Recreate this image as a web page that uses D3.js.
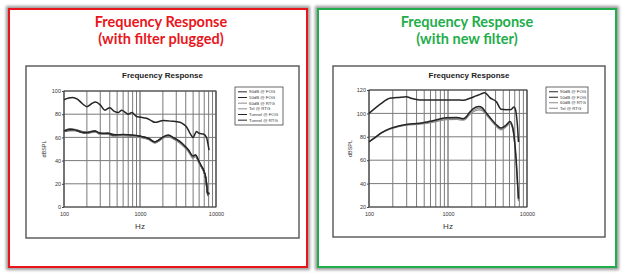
<!DOCTYPE html>
<html>
<head>
<meta charset="utf-8">
<script src="https://cdn.jsdelivr.net/npm/d3@7"></script>
<style>
  body { margin: 0; background: #fff; }
  svg { display: block; }
</style>
</head>
<body>
<div id="chart"></div>
<script>
const W = 626, H = 277;

// ---- data ----
const xTickLabels = [100, 1000, 10000];
const leftYTicks = [0, 20, 40, 60, 80, 100];
const rightYTicks = [20, 40, 60, 80, 100, 120];

const leftLegend = ['90dB @ FOG', '50dB @ FOG', '60dB @ RTG', 'Tel @ RTG', 'Tunnel @ FOG', 'Tunnel @ RTG'];
const rightLegend = ['90dB @ FOG', '50dB @ FOG', '60dB @ RTG', 'Tel @ RTG'];

// plugged filter, [Hz, dBSPL]
const left90FOG = [[100,92.5],[115,94],[130,94.5],[150,93],[175,89],[200,86.5],[230,89],[260,90.5],[300,88],[345,83.5],[400,85.5],[460,82.5],[520,81.5],[575,83.5],[640,81.5],[700,80],[780,81.5],[900,78],[1000,77.5],[1220,76.5],[1400,74.5],[1570,73],[2030,74.5],[2600,74],[3350,73],[3800,71],[4100,69],[4600,63],[5000,60],[5300,63],[5530,65],[6000,63.5],[6800,63],[7500,60],[7800,55],[8100,49]];
const left50FOG = [[100,65.5],[120,67],[140,66.5],[170,64.5],[200,64],[255,65.5],[300,63.5],[380,63.5],[450,62],[600,62.5],[800,62],[1000,61],[1300,59],[1570,56],[1800,58],[2030,60.5],[2360,62],[2800,59.5],[3350,56.5],[3900,52.5],[4300,49.5],[5000,44],[5400,45],[5850,40.5],[6400,35.5],[6800,32.5],[7400,24],[7800,11],[8100,12.5]];
const left60RTG = [[100,66],[120,67.5],[140,67],[170,65],[200,64.5],[255,65],[300,62.5],[380,63],[450,61.5],[600,61.5],[800,61],[1000,60],[1300,58],[1570,55],[1800,57],[2030,59.5],[2360,60.5],[2800,58.5],[3350,55],[3900,51],[4300,48],[5000,42],[5400,43.5],[5850,39],[6400,34.5],[6800,31.5],[7400,23],[7800,10],[8100,12]];
const leftTelRTG = [[100,65],[120,66.5],[140,66],[170,64],[200,63.5],[255,64.5],[300,63],[380,62.5],[450,61],[600,61.5],[800,61],[1000,60],[1300,58.5],[1570,55.5],[1800,57.5],[2030,60],[2360,61],[2800,58.5],[3350,55.5],[3900,51.5],[4300,48.5],[5000,43],[5400,44],[5850,39.5],[6400,35],[6800,32],[7400,23.5],[7800,10.5],[8100,12]];
const leftTunnelFOG = [[100,65],[120,66],[140,66],[170,64.5],[200,64],[255,65],[300,63.5],[380,63],[450,62],[600,62],[800,61.5],[1000,60.5],[1300,58.5],[1570,55.5],[1800,57.5],[2030,60],[2360,61],[2800,59],[3350,56],[3900,52],[4300,49],[5000,43],[5400,44.5],[5850,40],[6400,35],[6800,32],[7400,23],[7800,10],[8100,12]];
const leftTunnelRTG = [[100,65.5],[120,66.5],[140,66.5],[170,65],[200,64.5],[255,65.5],[300,63],[380,63.5],[450,62.5],[600,62],[800,61.5],[1000,61],[1300,59],[1570,56],[1800,58],[2030,60.5],[2360,61.5],[2800,59],[3350,56],[3900,52],[4300,49],[5000,43.5],[5400,44.5],[5850,40],[6400,35],[6800,32],[7400,23.5],[7800,10.5],[8100,12]];

// new filter, [Hz, dBSPL]
const right90FOG = [[100,100],[120,104.5],[143,108.5],[165,111.5],[183,113],[230,113.5],[297,114.3],[340,113],[437,111.5],[650,111.5],[950,111.5],[1300,111.5],[1550,111.2],[1900,113],[2270,115],[2600,116.5],[2910,117.7],[3150,116],[3360,113.7],[4100,110],[4700,103.5],[5500,103.2],[6300,103.4],[6800,105.5],[7100,104],[7300,100],[7600,88],[7800,75.5]];
const right50FOG = [[100,75.7],[120,79.5],[143,83.4],[183,87],[230,89],[297,90.6],[437,91.6],[645,93.8],[950,96.3],[1300,96.5],[1550,95.5],[1700,97],[1880,101],[2270,105.5],[2450,106],[2700,105],[3000,101],[3360,97],[4000,91],[4700,87.5],[5440,90],[6100,93],[6400,91],[6700,86],[7000,75],[7300,60],[7600,40],[7800,27]];
const right60RTG = [[100,75.7],[120,79.5],[143,83.2],[183,86.8],[230,88.8],[297,90.2],[437,91.2],[645,93.2],[950,95.5],[1300,95.7],[1550,94.8],[1700,96.2],[1880,100],[2270,103.8],[2450,104.5],[2700,103.5],[3000,100],[3360,96],[4000,90],[4700,86.6],[5440,89],[6100,92],[6400,90],[6700,85],[7000,74],[7300,59],[7600,39],[7800,26]];
const rightTelRTG = [[100,75.5],[120,79.2],[143,83],[183,86.5],[230,88.5],[297,90],[437,90.8],[645,92.5],[950,94.6],[1300,94.8],[1550,94.2],[1700,95.5],[1880,99],[2270,102.5],[2450,103],[2700,102.5],[3000,99.2],[3360,95.5],[4000,89.5],[4700,86],[5440,88.5],[6100,91.5],[6400,89.5],[6700,84],[7000,73],[7300,58],[7600,38],[7800,25]];

const leftSeries = [left90FOG, left50FOG, left60RTG, leftTelRTG, leftTunnelFOG, leftTunnelRTG];
const rightSeries = [right90FOG, right50FOG, right60RTG, rightTelRTG];

// ---- layout ----
const DARK = '#262626', GRAY = '#8c8c8c';

const panels = [
  {
    frame: [9, 9, 298, 258], color: '#e8161c', cx: 161,
    title: ['Frequency Response', '(with filter plugged)'],
    box: [26, 66, 273, 172], plot: [64, 91, 216, 207],
    yDomain: [0, 100], yTicks: leftYTicks, yLabelX: 46,
    series: leftSeries, legend: leftLegend,
    styles: [DARK, DARK, GRAY, GRAY, DARK, DARK],
    legendBox: [235, 87, 48, 38]
  },
  {
    frame: [318, 9, 298, 258], color: '#1fae4b', cx: 467,
    title: ['Frequency Response', '(with new filter)'],
    box: [333, 66, 272, 171], plot: [369, 90, 527, 207],
    yDomain: [20, 120], yTicks: rightYTicks, yLabelX: 352,
    series: rightSeries, legend: rightLegend,
    styles: [DARK, DARK, GRAY, GRAY],
    legendBox: [546, 87, 42, 26]
  }
];

const svg = d3.select('#chart').append('svg')
  .attr('width', W).attr('height', H)
  .attr('viewBox', `0 0 ${W} ${H}`);

svg.append('rect').attr('width', W).attr('height', H).attr('fill', '#fff');

const defs = svg.append('defs');
defs.append('filter').attr('id', 'shadow')
  .attr('x', '-10%').attr('y', '-10%').attr('width', '120%').attr('height', '120%')
  .append('feGaussianBlur').attr('stdDeviation', 1.8);

function drawPanel (p) {
  const g = svg.append('g');
  const [fx, fy, fw, fh] = p.frame;

  // frame with soft shadow
  g.append('rect')
    .attr('x', fx).attr('y', fy).attr('width', fw).attr('height', fh)
    .attr('fill', 'none').attr('stroke', '#9a9a9a').attr('stroke-width', 6)
    .attr('filter', 'url(#shadow)');
  g.append('rect')
    .attr('x', fx).attr('y', fy).attr('width', fw).attr('height', fh)
    .attr('fill', '#fff').attr('stroke', p.color).attr('stroke-width', 2);

  g.selectAll('text.head').data(p.title).enter().append('text')
    .attr('class', 'head')
    .attr('x', p.cx).attr('y', (d, i) => 27 + i * 17)
    .attr('text-anchor', 'middle')
    .attr('font-family', 'Lato, "Open Sans", sans-serif')
    .attr('font-weight', 'bold').attr('font-size', '14.5px')
    .attr('fill', p.color)
    .text(d => d);

  // scanned chart box
  const [bx, by, bw, bh] = p.box;
  g.append('rect')
    .attr('x', bx).attr('y', by).attr('width', bw).attr('height', bh)
    .attr('fill', '#fff').attr('stroke', '#555').attr('stroke-width', 1.4);

  const font = '"Liberation Sans", Arial, sans-serif';
  g.append('text')
    .attr('x', bx + bw / 2).attr('y', by + 12)
    .attr('text-anchor', 'middle')
    .attr('font-family', font).attr('font-weight', 'bold').attr('font-size', '8px')
    .attr('fill', '#222')
    .text('Frequency Response');

  const [x0, y0, x1, y1] = p.plot;
  const x = d3.scaleLog().domain([100, 10000]).range([x0, x1]);
  const y = d3.scaleLinear().domain(p.yDomain).range([y1, y0]);

  // grid
  const gridX = x.ticks();
  g.append('g').selectAll('line').data(gridX).enter().append('line')
    .attr('x1', d => x(d)).attr('x2', d => x(d))
    .attr('y1', y0).attr('y2', y1)
    .attr('stroke', d => xTickLabels.includes(d) ? '#4a4a4a' : '#7a7a7a')
    .attr('stroke-width', 1);
  g.append('g').selectAll('line').data(p.yTicks).enter().append('line')
    .attr('x1', x0).attr('x2', x1)
    .attr('y1', d => y(d)).attr('y2', d => y(d))
    .attr('stroke', '#7a7a7a').attr('stroke-width', 1);
  g.append('rect')
    .attr('x', x0).attr('y', y0).attr('width', x1 - x0).attr('height', y1 - y0)
    .attr('fill', 'none').attr('stroke', '#444').attr('stroke-width', 1);

  // axes labels
  const xAxis = d3.axisBottom(x).tickValues(xTickLabels).tickSize(0).tickPadding(5)
    .tickFormat(d3.format('d'));
  const ax = g.append('g').attr('transform', `translate(0,${y1})`).call(xAxis);
  const yAxis = d3.axisLeft(y).tickValues(p.yTicks).tickSize(2).tickPadding(1);
  const ay = g.append('g').attr('transform', `translate(${x0},0)`).call(yAxis);
  [ax, ay].forEach(a => {
    a.select('.domain').remove();
    a.selectAll('line').attr('stroke', '#444');
    a.selectAll('text').attr('font-family', font).attr('font-size', '5.5px').attr('fill', '#333');
  });

  g.append('text')
    .attr('transform', `translate(${p.yLabelX},${(y0 + y1) / 2}) rotate(-90)`)
    .attr('text-anchor', 'middle')
    .attr('font-family', font).attr('font-size', '5.5px').attr('fill', '#333')
    .text('dBSPL');
  g.append('text')
    .attr('x', (x0 + x1) / 2).attr('y', y1 + 22)
    .attr('text-anchor', 'middle')
    .attr('font-family', font).attr('font-size', '8px').attr('fill', '#333')
    .text('Hz');

  // curves
  const line = d3.line()
    .x(d => x(d[0])).y(d => y(d[1]))
    .curve(d3.curveMonotoneX);
  const order = p.series.map((s, i) => i).reverse();
  g.append('g').selectAll('path').data(order).enter().append('path')
    .attr('d', i => line(p.series[i]))
    .attr('fill', 'none')
    .attr('stroke', i => p.styles[i])
    .attr('stroke-width', i => p.styles[i] === DARK ? 1.5 : 1.2)
    .attr('stroke-linejoin', 'round');

  // legend
  const [lx, ly, lw, lh] = p.legendBox;
  g.append('rect')
    .attr('x', lx).attr('y', ly).attr('width', lw).attr('height', lh)
    .attr('fill', '#fff').attr('stroke', '#444').attr('stroke-width', 0.8);
  const step = (lh - 4) / p.legend.length;
  const items = g.append('g').selectAll('g').data(p.legend).enter().append('g')
    .attr('transform', (d, i) => `translate(${lx + 3},${ly + 2 + step * (i + 0.5)})`);
  items.append('line')
    .attr('x1', 0).attr('x2', 9).attr('y1', 0).attr('y2', 0)
    .attr('stroke', (d, i) => p.styles[i]).attr('stroke-width', 1);
  items.append('text')
    .attr('x', 11).attr('dy', '0.35em')
    .attr('font-family', font).attr('font-size', '4.3px').attr('fill', '#333')
    .text(d => d);
}

panels.forEach(drawPanel);
</script>
</body>
</html>
